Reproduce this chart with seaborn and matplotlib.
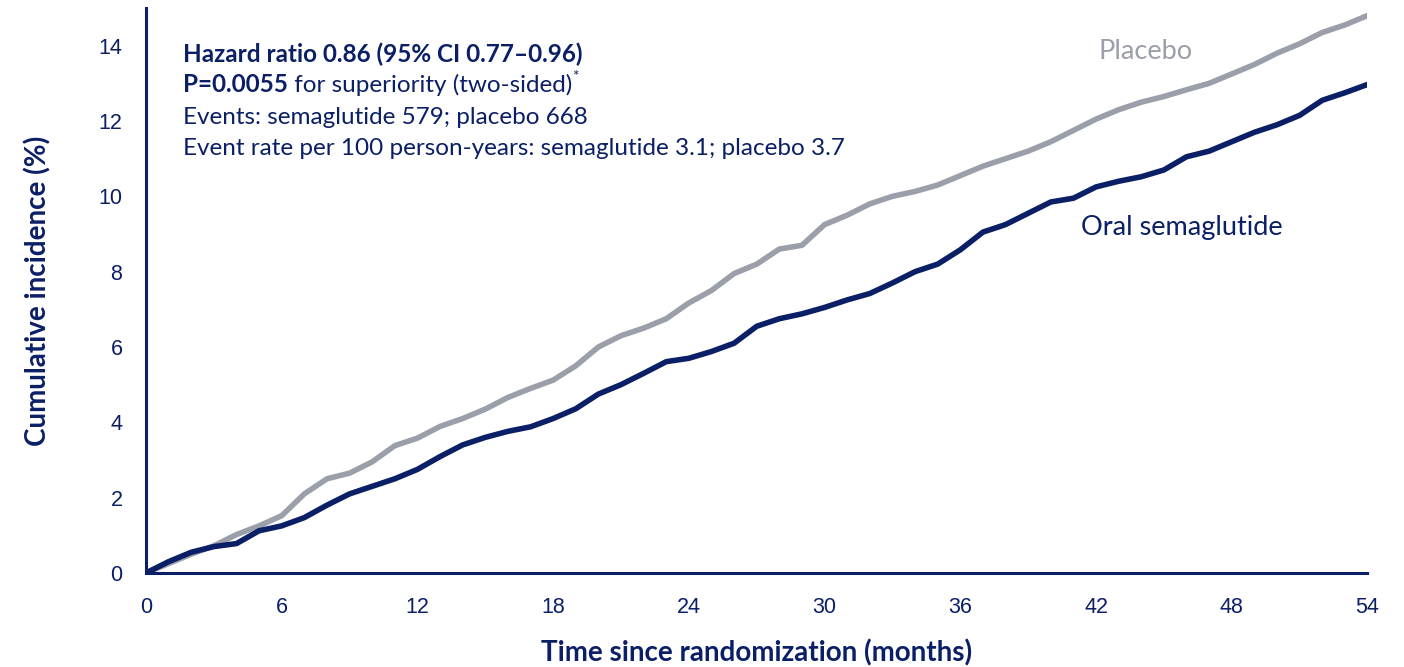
import matplotlib
matplotlib.use("Agg")
import matplotlib.pyplot as plt
import seaborn as sns
import pandas as pd

# values (cumulative incidence, %)
months = list(range(0, 55))
placebo = [0, 0.25, 0.5, 0.72, 1.02, 1.25, 1.52, 2.1, 2.5, 2.65,
           2.95, 3.38, 3.58, 3.89, 4.1, 4.35, 4.66, 4.9, 5.12, 5.5,
           6.0, 6.3, 6.5, 6.75, 7.17, 7.5, 7.95, 8.2, 8.6, 8.7,
           9.25, 9.5, 9.8, 10.0, 10.13, 10.3, 10.55, 10.8, 11.0, 11.2,
           11.45, 11.75, 12.05, 12.3, 12.5, 12.65, 12.83, 13.0, 13.25, 13.5,
           13.8, 14.05, 14.35, 14.55, 14.8]
oral_sema = [0, 0.3, 0.55, 0.7, 0.78, 1.12, 1.25, 1.47, 1.8, 2.1,
             2.3, 2.5, 2.75, 3.09, 3.4, 3.6, 3.76, 3.88, 4.1, 4.36,
             4.75, 5.0, 5.3, 5.61, 5.7, 5.88, 6.1, 6.55, 6.75, 6.88,
             7.05, 7.25, 7.42, 7.7, 8.0, 8.2, 8.58, 9.05, 9.25, 9.55,
             9.85, 9.95, 10.25, 10.4, 10.52, 10.7, 11.05, 11.2, 11.45, 11.7,
             11.9, 12.15, 12.55, 12.75, 12.97]
groups = ["Placebo", "Oral semaglutide"]
x_ticks = list(range(0, 55, 6))
y_ticks = list(range(0, 15, 2))

navy = "#0b1f66"
grey = "#9a9fa9"

df = pd.DataFrame({
    "month": months * 2,
    "incidence": placebo + oral_sema,
    "group": [groups[0]] * len(months) + [groups[1]] * len(months),
})

sns.set_style("white")
plt.rcParams["font.family"] = ["Lato", "DejaVu Sans"]

fig = plt.figure(figsize=(14.04, 6.67), dpi=100)
ax = fig.add_axes([0.104, 0.141, 0.870, 0.847])

sns.lineplot(data=df, x="month", y="incidence", hue="group",
             palette={groups[0]: grey, groups[1]: navy},
             linewidth=4, legend=False, ax=ax)

ax.set_xlim(0, 54)
ax.set_ylim(0, 15)
ax.set_xticks(x_ticks)
ax.set_yticks(y_ticks)
ax.set_xticklabels([str(t) for t in x_ticks], family="Liberation Sans", fontsize=15.5, color=navy)
ax.set_yticklabels([str(t) for t in y_ticks], family="Liberation Sans", fontsize=15.5, color=navy)
ax.tick_params(axis="both", direction="out", length=8, width=2, color=navy, pad=9)

for side in ["top", "right"]:
    ax.spines[side].set_visible(False)
for side in ["left", "bottom"]:
    ax.spines[side].set_color(navy)
    ax.spines[side].set_linewidth(2.2)

ax.set_xlabel("Time since randomization (months)", fontsize=20, fontweight="bold",
              color=navy, labelpad=16)
ax.set_ylabel("Cumulative incidence (%)", fontsize=20, fontweight="bold",
              color=navy, labelpad=34)

# annotation block
tx = 1.63
fs = 17.5
ax.text(tx, 13.76, "Hazard ratio 0.86 (95% CI 0.77\u20130.96)", fontsize=fs,
        fontweight="bold", color=navy, va="center")
p_txt = ax.text(tx, 12.96, "P=0.0055", fontsize=fs, fontweight="bold",
                color=navy, va="center")
rest = ax.annotate(" for superiority (two-sided)", xy=(1, 0), xycoords=p_txt,
                   fontsize=fs, color=navy, va="bottom")
ax.annotate("*", xy=(1, 0.55), xycoords=rest, fontsize=11, color=navy, va="bottom")
ax.text(tx, 12.09, "Events: semaglutide 579; placebo 668", fontsize=fs,
        color=navy, va="center")
ax.text(tx, 11.27, "Event rate per 100 person-years: semaglutide 3.1; placebo 3.7",
        fontsize=fs, color=navy, va="center")

ax.text(44.2, 13.84, "Placebo", fontsize=19.5, color=grey, va="center", ha="center")
ax.text(45.8, 9.17, "Oral semaglutide", fontsize=19.5, color=navy, va="center", ha="center")

fig.savefig("out.png", dpi=100)
